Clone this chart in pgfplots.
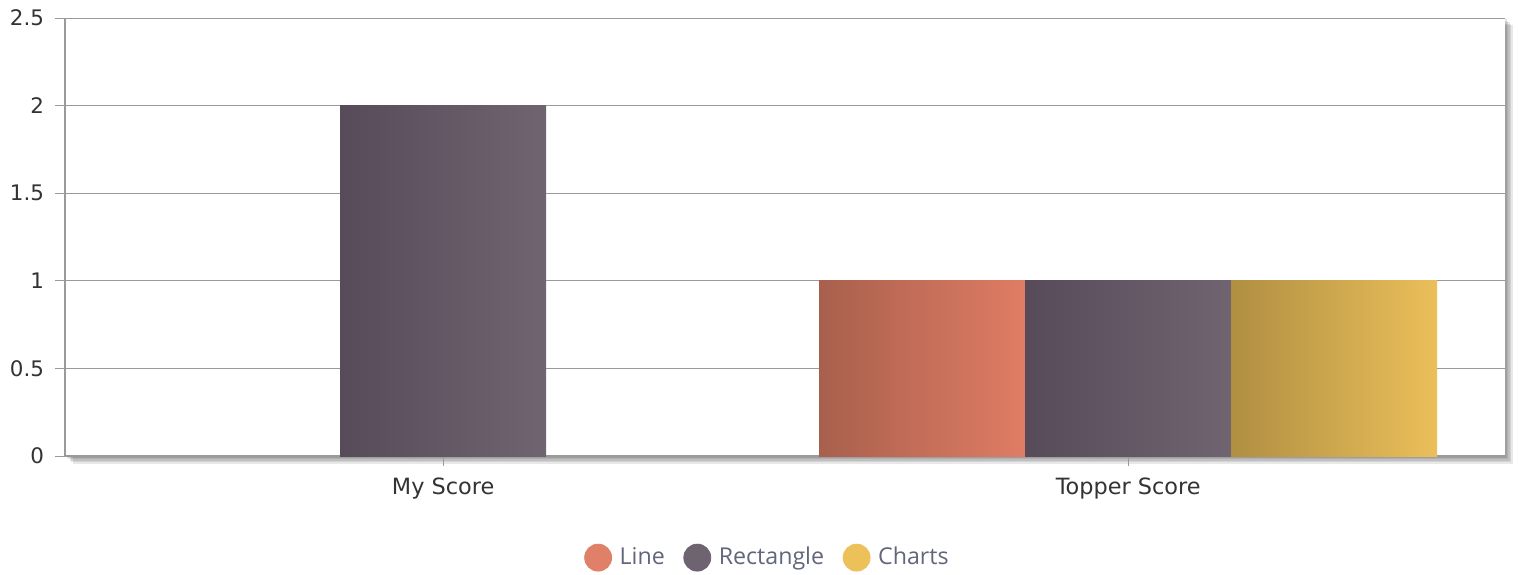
\documentclass[border=0pt]{standalone}
\usepackage{pgfplots}
\pgfplotsset{compat=1.18}
\usepackage{fontspec}
\setmainfont{DejaVu Sans}
\newfontfamily\legfont{Open Sans}
\definecolor{lineA}{HTML}{A8604D}
\definecolor{lineB}{HTML}{E07C64}
\definecolor{rectA}{HTML}{574B5A}
\definecolor{rectB}{HTML}{706471}
\definecolor{chA}{HTML}{B08F42}
\definecolor{chB}{HTML}{EBBF5A}
\definecolor{lineL}{HTML}{E08068}
\definecolor{rectL}{HTML}{6E6370}
\definecolor{chL}{HTML}{EDC15A}
\definecolor{tickC}{HTML}{333333}
\definecolor{gridC}{HTML}{9A9A9A}
\definecolor{legT}{HTML}{62667A}
\begin{document}
\begin{tikzpicture}
\foreach \d in {1,...,5} { \fill[black, opacity=0.09] (\d*0.75pt, -\d*0.75pt) rectangle ++(720pt,219pt); }
\begin{axis}[
 at={(0,0)}, anchor=south west, scale only axis, width=720pt, height=219pt,
 xmin=-0.552, xmax=1.550, ymin=0, ymax=2.5,
 axis background/.style={fill=white},
 axis lines*=left, axis line style={-, gridC, line width=0.6pt},
 xtick={0,1}, xticklabels={My Score, Topper Score},
 ytick={0,0.5,1,1.5,2,2.5},
 ymajorgrids, major grid style={gridC, line width=0.5pt},
 tick align=outside, major tick length=5pt, tick style={gridC, line width=0.5pt},
 tick label style={text=tickC},
 xticklabel style={font=\fontsize{11.2pt}{13pt}\selectfont, yshift=-2.5pt},
 yticklabel style={font=\fontsize{10.7pt}{12pt}\selectfont, /pgf/number format/fixed, xshift=-2pt},
 /pgf/number format/assume math mode=true,
 legend style={at={(axis description cs:0.4885,-0.232)}, anchor=center, draw=none, fill=none,
   legend columns=-1, font=\legfont\fontsize{11.6pt}{13pt}\selectfont, text=legT,
   /tikz/every odd column/.append style={column sep=1.8pt},
   /tikz/every even column/.append style={column sep=7.3pt}},
]
\addplot[ybar, bar width=103pt, bar shift=-103pt, draw=none, left color=lineA, right color=lineB, forget plot] coordinates {(1,1)};
\addplot[ybar, bar width=103pt, bar shift=0pt, draw=none, left color=rectA, right color=rectB, forget plot] coordinates {(0,2)};
\addplot[ybar, bar width=103pt, bar shift=0pt, draw=none, left color=rectA, right color=rectB, forget plot] coordinates {(1,1)};
\addplot[ybar, bar width=103pt, bar shift=103pt, draw=none, left color=chA, right color=chB, forget plot] coordinates {(1,1)};
\addlegendimage{legend image code/.code={\fill[lineL] (0pt,0pt) circle (6.75pt);}}
\addlegendentry{Line}
\addlegendimage{legend image code/.code={\fill[rectL] (0pt,0pt) circle (6.75pt);}}
\addlegendentry{Rectangle}
\addlegendimage{legend image code/.code={\fill[chL] (0pt,0pt) circle (6.75pt);}}
\addlegendentry{Charts}
\end{axis}
\pgfresetboundingbox
\path (-32.5pt,-59pt) rectangle (726.5pt,228pt);
\end{tikzpicture}
\end{document}
